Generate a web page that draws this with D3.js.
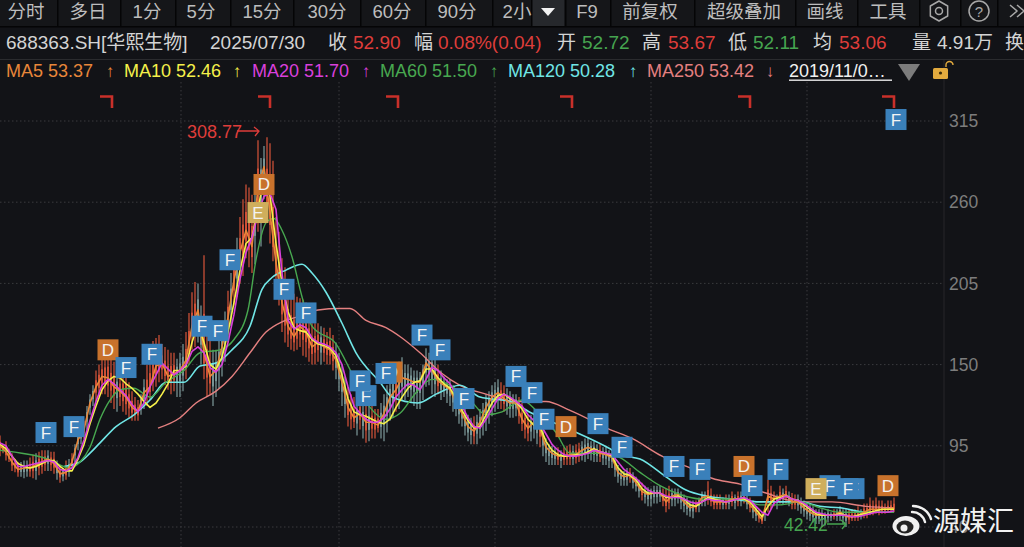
<!DOCTYPE html>
<html><head><meta charset="utf-8">
<script src="https://cdn.jsdelivr.net/npm/d3@7"></script>
<style>html,body{margin:0;padding:0;background:#121317;overflow:hidden}svg{display:block}text{font-family:"Liberation Sans","Noto Sans CJK SC",sans-serif}</style>
</head><body><svg id="c" width="1024" height="547"></svg>
<script>
const ma5=[95,91,84,79,80,80,82,84,86,83,76,77,84,99,106,124,135,142,141,135,132,128,121,118,131,135,149,151,142,144,146,153,176,187,158,142,146,162,182,207,226,241,230,270,284,253,219,192,176,169,176,172,162,165,162,160,153,138,121,114,117,111,111,109,117,128,133,141,140,138,138,151,146,139,136,133,124,117,108,105,111,121,128,131,127,124,124,113,107,111,106,94,90,88,88,89,89,92,94,92,90,89,87,77,74,75,70,64,62,63,63,57,61,62,57,53,54,60,61,57,57,57,59,59,60,55,50,45,61,59,61,62,57,57,53,50,48,48,48,48,50,47,47,48,50,52,52,52,52,53];
const ma10=[96,93,88,83,81,80,81,83,85,85,81,78,78,86,96,110,122,133,139,142,141,137,134,130,125,121,124,130,137,146,146,149,165,178,165,150,147,155,172,192,214,232,236,255,278,265,232,205,186,175,173,172,167,164,163,161,156,143,127,118,116,115,113,111,110,113,121,128,134,138,139,147,147,141,137,134,127,119,112,107,108,116,124,129,130,127,125,120,113,109,108,98,92,89,88,88,89,89,91,93,91,90,88,80,76,75,72,66,63,63,63,60,60,61,59,55,54,57,60,59,58,57,58,59,59,57,52,47,54,59,60,61,59,58,55,52,49,48,48,48,49,48,47,48,49,50,51,52,52,52];
const ma20=[97,95,88,81,81,82,83,84,85,84,79,78,80,87,99,112,125,136,140,137,133,129,123,118,124,135,143,151,147,143,146,150,159,162,158,148,145,150,165,184,208,226,236,252,264,266,255,212,180,174,177,175,168,165,164,162,158,150,135,122,117,113,111,111,114,120,128,133,137,136,133,140,148,146,141,137,130,122,114,108,107,113,120,127,130,128,125,122,116,112,110,103,96,92,89,88,88,89,90,92,91,90,89,84,79,76,73,69,65,63,63,61,60,60,59,57,56,57,59,58,58,57,58,59,60,58,54,50,48,56,59,61,59,58,56,53,50,49,48,48,48,48,47,47,48,49,50,50,50,51];
const highs=[102,98,90,84,85,87,90,92,92,91,82,85,90,104,112,130,146,154,160,152,145,150,132,126,140,158,168,164,160,158,158,172,199,205,224,166,160,175,200,225,250,272,265,302,298,300,250,222,205,198,195,192,178,178,175,175,165,150,135,128,128,125,122,120,130,142,148,155,150,146,145,161,160,150,142,140,130,125,116,115,120,130,136,140,136,132,130,124,116,118,118,100,95,94,94,96,96,98,101,98,96,95,92,82,78,80,74,70,67,68,68,66,66,66,62,58,58,64,71,62,62,62,64,64,65,60,54,50,72,64,68,68,63,62,58,55,52,52,52,52,54,52,52,54,56,60,60,58,58,60];
const lows=[88,85,78,74,73,74,72,76,78,76,70,72,80,92,100,116,125,130,128,120,122,116,112,112,120,126,135,140,133,132,128,140,160,165,140,130,128,142,165,190,205,222,212,240,262,232,197,172,162,159,162,155,150,152,152,150,140,122,108,107,106,97,100,104,98,112,118,126,128,122,120,135,130,130,128,122,115,108,98,96,100,105,115,120,118,114,115,105,98,100,94,84,82,82,82,82,83,85,86,84,84,82,80,70,68,70,64,58,54,56,57,50,54,56,50,47,50,54,55,52,52,52,54,54,56,50,44,42,50,54,56,56,52,51,47,44,42,40,43,45,44,40,44,44,46,48,49,49,50,50];
const highsMid=[96,93,86,84,85,89,91,92,91,85,80,86,96,108,122,136,150,158,154,146,148,138,128,130,150,166,170,162,158,154,164,185,206,190,176,160,166,186,212,236,262,270,272,290,304,288,240,216,200,196,194,186,178,176,172,170,158,142,130,126,124,122,120,124,136,146,152,150,148,146,150,158,154,146,140,136,128,120,114,116,124,132,138,138,134,130,128,120,116,120,110,96,94,92,95,95,97,100,98,96,94,92,88,78,80,77,72,68,66,68,66,68,66,64,60,58,60,64,66,62,60,62,62,64,62,58,52,52,68,62,66,64,62,60,56,54,52,50,50,52,52,52,52,52,56,58,58,56,58];
const lowsMid=[90,84,77,74,74,73,75,78,78,72,71,74,84,96,106,122,128,130,124,118,118,114,112,116,122,132,138,136,130,128,132,150,162,150,128,122,134,152,176,196,210,216,218,230,246,220,190,165,160,160,156,152,150,150,150,146,132,114,106,102,100,98,100,100,104,114,120,126,124,120,126,136,128,126,124,118,110,102,96,96,102,110,118,120,116,114,110,100,98,96,88,82,82,80,82,82,84,84,85,84,82,80,74,68,68,66,60,56,54,56,54,52,54,52,48,46,50,54,54,52,52,52,52,54,52,46,43,44,52,52,55,54,52,49,45,43,42,41,44,44,42,42,44,45,46,48,48,49,50];
const ma60Bars=[0,24,35,40,45,50,55,60,67,75,83,92,100,110,117,124,128,133,137,141,146,151,156,168,176,185,193,200,208,216,225,235,243,251,261,268,278,285,301,310,320,330,340,350,370,380,390,400,410,420,431,447];
const ma60=[92,86,80,84,94,113,126,133,134,128,138,146,158,160,167,187,221,246,249,241,223,196,176,164,144,121,113,117,131,140,136,126,116,118,126,119,104,90,90,87,77,68,62,59,59,55,55,57,53,50,50,50];
const ma120Bars=[32,40,45,50,58,67,75,83,92,100,108,116,125,131,136,143,151,156,163,171,178,190,196,209,218,230,240,255,266,285,305,310,320,333,343,353,366,380,400,410,420,433,447];
const ma120=[81,84,90,97,108,116,126,138,138,149,151,160,176,201,209,214,218,212,199,178,158,138,128,124,130,136,128,125,117,106,93,89,86,74,65,61,59,57,57,54,53,50,50];
const ma250Bars=[79,90,98,108,116,125,133,141,148,159,170,175,183,193,201,210,221,230,243,258,273,285,305,316,331,345,356,370,383,400,416,433,447];
const ma250=[107,114,124,132,142,158,172,179,182,187,188,188,180,175,168,158,144,136,130,125,125,119,106,100,88,80,73,69,63,57,57,54,53];
const tickVals=[315,260,205,150,95,40];
const yearBars=[56,135,199,286,375,447];
const gridBars=[90,169,247,325,403];
const markerBars=[23,37,54,63,76,101,109,115,129,132,142,153,183,196,193,180,211,220,232,258,266,272,283,299,311,337,350,372,376,389,415,427,424,408,444,448];
const markerPrices=[104,108,160,148,157,176,173,221,253,272,201,185,129,145,144,139,170,160,127,142,131,113,108,110,94,81,79,81,68,79,68,66,66,66,68,316];
const markerTypes=["F","F","D","F","F","F","F","F","E","D","F","F","F","D","F","F","F","F","F","F","F","F","D","F","F","F","F","D","F","F","F","F","F","E","D","F"];
const toolbarLabels=["分时","多日","1分","5分","15分","30分","60分","90分","2小","F9","前复权","超级叠加","画线","工具"];
const toolbarCenters=[26,88,147,201,262,327,392,457,517,587,650,744,825,888];
const toolbarSeps=[57,120,175,230,293,360,425,492,531,565,610,694,795,857,919,960,997];
const quoteTexts=["688363.SH[华熙生物]","2025/07/30","收","52.90","幅","0.08%(0.04)","开","52.72","高","53.67","低","52.11","均","53.06","量","4.91万","换"];
const quoteLefts=[6,210,328,353,414,438,557,582,642,668,728,753,813,839,912,937,1005];
const quoteKinds=["n","n","n","r","n","r","n","g","n","r","n","g","n","r","n","n","n"];
const maLabels=["MA5 53.37","MA10 52.46","MA20 51.70","MA60 51.50","MA120 50.28","MA250 53.42"];
const maLefts=[6,124,252,380,508,647];
const maArrows=["↑","↑","↑","↑","↑","↓"];
const maArrowX=[110,237,366,494,633,770];
const maColors=["#e8873a","#f5f04a","#d940dc","#48a850","#70e6e6","#e48080"];

const RED="#de3d3a",GREEN="#46a550";
const svg=d3.select("#c");
const W=1024,H=547;
svg.append("rect").attr("width",W).attr("height",H).attr("fill","#121317");
const x=d3.scaleLinear().domain([0,448]).range([0,896]);
const y=d3.scaleLinear().domain([315,40]).range([121,527]);

// grid
const grid=svg.append("g").attr("stroke","#3a3b3e").attr("stroke-dasharray","1.5 2.5");
grid.selectAll("line.h").data(tickVals).join("line").attr("class","h").attr("x1",0).attr("x2",944).attr("y1",d=>y(d)).attr("y2",d=>y(d));
grid.selectAll("line.v").data(gridBars).join("line").attr("class","v").attr("x1",d=>x(d)+1).attr("x2",d=>x(d)+1).attr("y1",82).attr("y2",H);
svg.append("line").attr("x1",944).attr("x2",944).attr("y1",60).attr("y2",H).attr("stroke","#26272a");

// axis
const ax=svg.append("g").attr("transform","translate(949,0)").call(d3.axisRight(y).tickValues(tickVals).tickSize(0).tickPadding(0));
ax.select(".domain").remove();
ax.selectAll("text").attr("fill","#7d7d7d").attr("font-size",17.5).attr("font-family",'"Liberation Sans"');

// year brackets
svg.append("g").selectAll("path").data(yearBars).join("path")
 .attr("d",d=>`M${x(d)-12},96.5H${x(d)}V108`).attr("fill","none").attr("stroke","#c9302a").attr("stroke-width",2.6);

// candles
const cd=highs.map((h,i)=>({b:i*3,h,l:lows[i],c:ma5[i]}))
 .concat(highsMid.map((h,i)=>({b:i*3+1.5,h,l:lowsMid[i],c:(ma5[i]+ma5[i+1])/2})));
cd.forEach(d=>d.up=(d.h-d.c)>=(d.c-d.l));
const UP="#d9553a",DN="#7f9c9c";
const cg=svg.append("g");
cg.selectAll("line").data(cd).join("line")
 .attr("x1",d=>x(d.b)).attr("x2",d=>x(d.b))
 .attr("y1",d=>y(d.h)).attr("y2",d=>y(d.l))
 .attr("stroke",d=>d.up?UP:DN).attr("stroke-width",1.2);
cg.selectAll("rect").data(cd).join("rect")
 .attr("x",d=>x(d.b)-1).attr("width",2)
 .attr("y",d=>y(d.c+(d.h-d.c)*.4)).attr("height",d=>Math.max(1,y(d.c-(d.c-d.l)*.4)-y(d.c+(d.h-d.c)*.4)))
 .attr("fill",d=>d.up?UP:DN).attr("opacity",.85);

// MA lines
const lineIdx=d3.line().x((d,i)=>x(i*3)).y(d=>y(d));
const drawSparse=(bars,vals,col,w)=>svg.append("path").datum(vals)
 .attr("d",d3.line().x((d,i)=>x(bars[i])).y(d=>y(d)).curve(d3.curveMonotoneX))
 .attr("fill","none").attr("stroke",col).attr("stroke-width",w);
drawSparse(ma250Bars,ma250,maColors[5],1.4);
drawSparse(ma120Bars,ma120,maColors[4],1.6);
drawSparse(ma60Bars,ma60,maColors[3],1.4);
[[ma5,maColors[0]],[ma10,maColors[1]],[ma20,maColors[2]]].forEach(([v,c])=>{
 svg.append("path").datum(v).attr("d",lineIdx).attr("fill","none").attr("stroke",c).attr("stroke-width",1.6).attr("stroke-linejoin","round");
});

// annotations
const arrow=(x1,x2,yy,col)=>svg.append("path").attr("d",`M${x1},${yy}H${x2}M${x2-5},${yy-4}L${x2},${yy}L${x2-4},${yy+5}`).attr("fill","none").attr("stroke",col).attr("stroke-width",1.3);
svg.append("text").attr("x",187).attr("y",137.5).attr("font-size",18).attr("fill",RED).text("308.77");
arrow(237,259,131,RED);
svg.append("text").attr("x",784).attr("y",530.5).attr("font-size",17.5).attr("fill",GREEN).text("42.42");
arrow(827,846,524,GREEN);

// event markers
const mColor={F:"#3a80ba",D:"#c8722c",E:"#cfae5c"};
const mk=svg.append("g").selectAll("g").data(markerBars.map((b,i)=>({b,p:markerPrices[i],t:markerTypes[i]}))).join("g")
 .attr("transform",d=>`translate(${x(d.b)},${y(d.p)})`);
mk.append("rect").attr("x",-10.5).attr("y",-10.5).attr("width",21).attr("height",21).attr("fill",d=>mColor[d.t]);
mk.append("text").attr("text-anchor","middle").attr("y",6).attr("font-size",17).attr("fill","#f3f3f3").text(d=>d.t);

// header backgrounds
svg.append("rect").attr("width",W).attr("height",26).attr("fill","#151619");
svg.append("rect").attr("y",27).attr("width",W).attr("height",32).attr("fill","#121317");
svg.append("rect").attr("y",26).attr("width",W).attr("height",1.5).attr("fill","#050506");
svg.append("rect").attr("y",59).attr("width",W).attr("height",1).attr("fill","#2a2b2e");
svg.append("rect").attr("x",532).attr("width",32).attr("height",26).attr("fill","#26282c");
svg.append("g").selectAll("rect").data(toolbarSeps).join("rect").attr("x",d=>d).attr("width",1.5).attr("height",26).attr("fill","#050506");
svg.append("g").selectAll("text").data(toolbarLabels).join("text")
 .attr("x",(d,i)=>toolbarCenters[i]).attr("y",18).attr("text-anchor","middle").attr("font-size",18.5).attr("fill","#bdbdbd").text(d=>d);
svg.append("path").attr("d","M541,8H555L548,16Z").attr("fill","#f2f2f2");
// icons
const icons=svg.append("g").attr("fill","none").attr("stroke","#a8a8a8").attr("stroke-width",1.5);
icons.append("circle").attr("cx",939).attr("cy",11).attr("r",3.5);
icons.append("path").attr("d",d3.range(6).map(k=>{const a=k*Math.PI/3+Math.PI/6;return (k?"L":"M")+(939+10*Math.cos(a))+","+(11+10*Math.sin(a));}).join("")+"Z").attr("stroke-linejoin","round");
icons.append("circle").attr("cx",979).attr("cy",11).attr("r",10);
svg.append("text").attr("x",979).attr("y",16.5).attr("text-anchor","middle").attr("font-size",15).attr("fill","#a8a8a8").text("?");
icons.append("path").attr("d","M1010,5L1017,11L1010,17M1017,5L1024,11L1017,17");

// quote row
const qc={n:"#d4d4d4",r:RED,g:GREEN};
svg.append("g").selectAll("text").data(quoteTexts).join("text")
 .attr("x",(d,i)=>quoteLefts[i]).attr("y",49).attr("font-size",19).attr("fill",(d,i)=>qc[quoteKinds[i]]).text(d=>d);

// MA legend row
svg.append("g").selectAll("text").data(maLabels).join("text")
 .attr("x",(d,i)=>maLefts[i]).attr("y",77).attr("font-size",18).attr("fill",(d,i)=>maColors[i]).text(d=>d);
svg.append("g").selectAll("text").data(maArrows).join("text")
 .attr("x",(d,i)=>maArrowX[i]).attr("y",77).attr("text-anchor","middle").attr("font-size",17).attr("font-family","DejaVu Sans").attr("fill",(d,i)=>maColors[i]).text(d=>d);
svg.append("text").attr("x",789).attr("y",77).attr("font-size",18).attr("fill","#f0f0f0").text("2019/11/0…");
svg.append("rect").attr("x",789).attr("y",79.5).attr("width",103).attr("height",1.4).attr("fill","#e8e8e8");
svg.append("path").attr("d","M898,64H920L909,81Z").attr("fill","#7c7c7c");
svg.append("rect").attr("x",933).attr("y",68).attr("width",15).attr("height",11).attr("rx",1.5).attr("fill","#e2aa3e");
svg.append("circle").attr("cx",940.5).attr("cy",73).attr("r",1.6).attr("fill","#3a2a08");
svg.append("path").attr("d","M946,67V65A3.5,3.5 0 0 1 953,65").attr("fill","none").attr("stroke","#e2aa3e").attr("stroke-width",1.4);

// watermark
const wm=svg.append("g");
wm.append("ellipse").attr("cx",906).attr("cy",526).attr("rx",13.5).attr("ry",10).attr("fill","#f0f0f0");
wm.append("ellipse").attr("cx",905).attr("cy",527).attr("rx",8.5).attr("ry",6.5).attr("fill","#222");
wm.append("circle").attr("cx",904).attr("cy",528).attr("r",3.5).attr("fill","#f0f0f0");
wm.append("path").attr("d","M912,512A13,13 0 0 1 925,522M913,506A19,19 0 0 1 931,519").attr("fill","none").attr("stroke","#f0f0f0").attr("stroke-width",2.4).attr("stroke-linecap","round");
wm.append("text").attr("x",933).attr("y",531).attr("font-size",27).attr("fill","#f2f2f2").attr("font-family","Noto Sans CJK SC").text("源媒汇");
</script></body></html>
